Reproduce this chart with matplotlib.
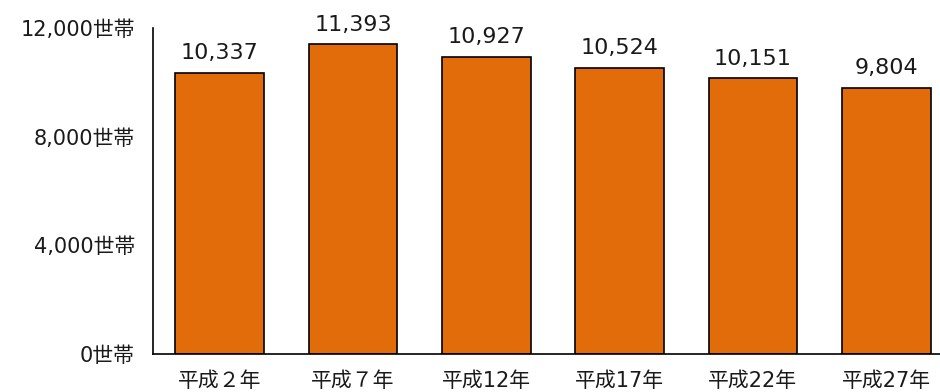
import matplotlib.pyplot as plt

# wide Latin digits first, Japanese glyphs from the CJK family
plt.rcParams['font.family'] = ['DejaVu Sans', 'Noto Sans CJK JP']

years = ['平成２年', '平成７年', '平成12年', '平成17年', '平成22年', '平成27年']
households = [10337, 11393, 10927, 10524, 10151, 9804]
yticks = [0, 4000, 8000, 12000]

fig = plt.figure(figsize=(9.4, 3.92), dpi=100)
# axes runs slightly past the right edge of the figure
ax = fig.add_axes([153 / 940, 1 - 354 / 392, 800 / 940, 326 / 392])

x = range(len(years))
bars = ax.bar(x, households, width=0.667, color='#E36C0A',
              edgecolor='black', linewidth=1.2)

for xi, v in zip(x, households):
    ax.annotate(f'{v:,}', (xi, v), xytext=(0, 7), textcoords='offset points',
                ha='center', va='bottom', fontsize=16, color='#1a1a1a')

ax.set_xlim(-0.5, 5.5)
ax.set_ylim(0, 12000)
ax.set_yticks(yticks)
ax.set_yticklabels([f'{t:,}世帯' for t in yticks], fontsize=15, color='#1a1a1a')
ax.set_xticks(list(x))
ax.set_xticklabels(years, fontsize=15, color='#1a1a1a')
ax.tick_params(axis='both', length=0)
ax.tick_params(axis='y', pad=13)
ax.tick_params(axis='x', pad=12)

for side in ['top', 'right']:
    ax.spines[side].set_visible(False)
for side in ['left', 'bottom']:
    ax.spines[side].set_linewidth(1.2)

fig.savefig('out.png', dpi=100)
